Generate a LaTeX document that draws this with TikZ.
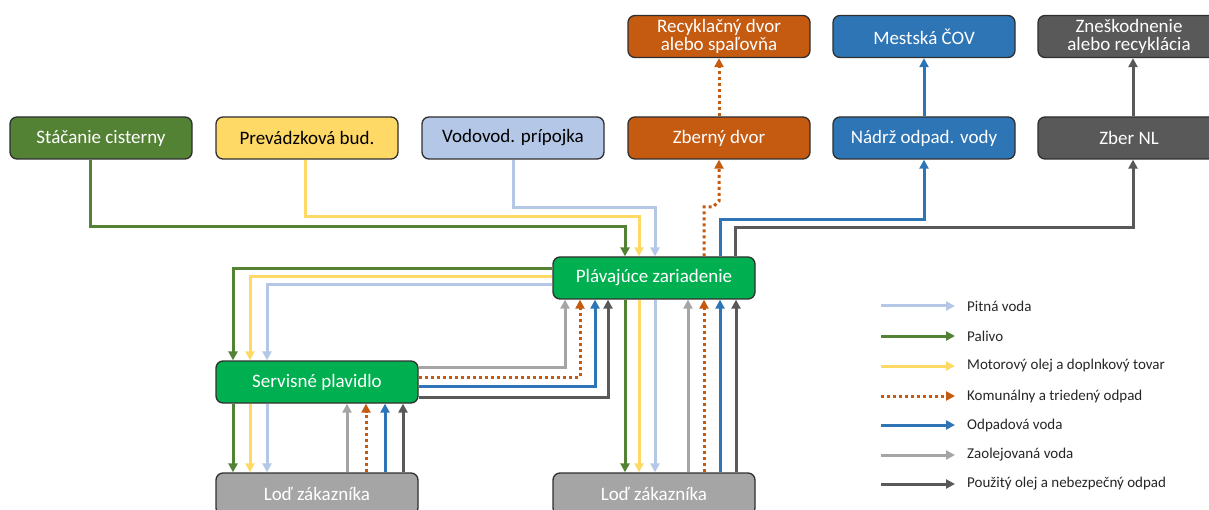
\documentclass[tikz,border=0pt]{standalone}
\usepackage{fontspec}
\setmainfont{Carlito}
\usetikzlibrary{arrows.meta}
\definecolor{cgreen}{HTML}{548235}
\definecolor{cyellow}{HTML}{FFD966}
\definecolor{clblue}{HTML}{B4C7E7}
\definecolor{corange}{HTML}{C55A11}
\definecolor{cblue}{HTML}{2E75B6}
\definecolor{cgray}{HTML}{A5A5A5}
\definecolor{cdark}{HTML}{595959}
\definecolor{cbright}{HTML}{00B050}
\definecolor{cborder}{HTML}{2F2F2F}
\tikzset{
  box/.style={draw=cborder, line width=1.3pt, rounded corners=7pt, minimum height=42pt, inner sep=0pt, font=\fontsize{19}{18}\selectfont, align=center},
  sbox/.style={box, minimum width=182pt},
  wbox/.style={box, minimum width=202pt},
  flow/.style={line width=3pt, -{Triangle[length=9pt,width=9pt]}},
  palivo/.style={flow, draw=cgreen},
  olej/.style={flow, draw=cyellow},
  pitna/.style={flow, draw=clblue},
  odpad/.style={flow, draw=corange, dash pattern=on 3pt off 3pt},
  odvoda/.style={flow, draw=cblue},
  zaol/.style={flow, draw=cgray},
  nebez/.style={flow, draw=cdark},
  legtext/.style={anchor=west, inner sep=0pt, font=\fontsize{15}{15}\selectfont, text=black!85}
}
\begin{document}
\begin{tikzpicture}[x=1pt,y=-1pt]
\useasboundingbox (0,0) rectangle (1209,510);
% top row
\node[sbox, fill=corange, text=white] (recyk) at (719,36.5) {Recyklačný dvor\\alebo spaľovňa};
\node[sbox, fill=cblue, text=white] (cov) at (924,36.5) {Mestská ČOV};
\node[sbox, fill=cdark, text=white] (znes) at (1129,36.5) {Zneškodnenie\\alebo recyklácia};
% second row
\node[sbox, fill=cgreen, text=white] (stac) at (101,138) {Stáčanie cisterny};
\node[sbox, fill=cyellow, text=black] (prev) at (307,138) {Prevádzková bud.};
\node[sbox, fill=clblue, text=black] (vodo) at (513,138) {Vodovod. prípojka};
\node[sbox, fill=corange, text=white] (zber) at (719,138) {Zberný dvor};
\node[sbox, fill=cblue, text=white] (nadrz) at (924,138) {Nádrž odpad. vody};
\node[sbox, fill=cdark, text=white] (zbernl) at (1129,138) {Zber NL};
% middle
\node[wbox, fill=cbright, text=white] (plav) at (654,278) {Plávajúce zariadenie};
\node[wbox, fill=cbright, text=white] (serv) at (317,382) {Servisné plavidlo};
\node[wbox, fill=cgray, text=white] (lod1) at (317,494) {Loď zákazníka};
\node[wbox, fill=cgray, text=white] (lod2) at (654,494) {Loď zákazníka};

% top-row arrows
\draw[odpad] (zber.north) -- (recyk.south);
\draw[odvoda] (nadrz.north) -- (cov.south);
\draw[nebez] ([xshift=4pt]zbernl.north) -- ([xshift=4pt]znes.south);

% sources -> plav
\draw[palivo] ([xshift=-11pt]stac.south) |- (625,227) -- ([xshift=-29pt]plav.north);
\draw[olej] ([xshift=-2pt]prev.south) |- (639,217) -- ([xshift=-15pt]plav.north);
\draw[pitna] (vodo.south) |- (655,208) -- ([xshift=1pt]plav.north);
% plav -> sinks
\draw[odpad] ([xshift=50pt]plav.north) -- (704,207) -- (713,207) -- (719,201) -- (zber.south);
\draw[odvoda] ([xshift=66pt]plav.north) |- (924,220) -- (nadrz.south);
\draw[nebez] ([xshift=81pt]plav.north) |- (1133,228) -- ([xshift=4pt]zbernl.south);

% plav -> serv
\draw[palivo] ([yshift=9pt]plav.west) -| ([xshift=-84pt]serv.north);
\draw[olej] ([yshift=1pt]plav.west) -| ([xshift=-67pt]serv.north);
\draw[pitna] ([yshift=-7pt]plav.west) -| ([xshift=-50pt]serv.north);
% serv -> plav
\draw[zaol] ([yshift=15pt]serv.east) -| ([xshift=-89pt]plav.south);
\draw[odpad] ([yshift=5pt]serv.east) -| ([xshift=-74pt]plav.south);
\draw[odvoda] ([yshift=-4pt]serv.east) -| ([xshift=-59pt]plav.south);
\draw[nebez] ([yshift=-15pt]serv.east) -| ([xshift=-46pt]plav.south);

% serv <-> lod1
\draw[palivo] ([xshift=-84pt]serv.south) -- ([xshift=-84pt]lod1.north);
\draw[olej] ([xshift=-67pt]serv.south) -- ([xshift=-67pt]lod1.north);
\draw[pitna] ([xshift=-50pt]serv.south) -- ([xshift=-50pt]lod1.north);
\draw[zaol] ([xshift=30pt]lod1.north) -- ([xshift=30pt]serv.south);
\draw[odpad] ([xshift=49pt]lod1.north) -- ([xshift=49pt]serv.south);
\draw[odvoda] ([xshift=68pt]lod1.north) -- ([xshift=68pt]serv.south);
\draw[nebez] ([xshift=86pt]lod1.north) -- ([xshift=86pt]serv.south);

% plav <-> lod2
\draw[palivo] ([xshift=-29pt]plav.south) -- ([xshift=-29pt]lod2.north);
\draw[olej] ([xshift=-15pt]plav.south) -- ([xshift=-15pt]lod2.north);
\draw[pitna] ([xshift=1pt]plav.south) -- ([xshift=1pt]lod2.north);
\draw[zaol] ([xshift=34pt]lod2.north) -- ([xshift=34pt]plav.south);
\draw[odpad] ([xshift=50pt]lod2.north) -- ([xshift=50pt]plav.south);
\draw[odvoda] ([xshift=66pt]lod2.north) -- ([xshift=66pt]plav.south);
\draw[nebez] ([xshift=82pt]lod2.north) -- ([xshift=82pt]plav.south);

% legend
\foreach \st/\txt/\yy [count=\i] in {pitna/Pitná voda/306, palivo/Palivo/336, olej/Motorový olej a doplnkový tovar/366, odpad/Komunálny a triedený odpad/396, odvoda/Odpadová voda/425, zaol/Zaolejovaná voda/455, nebez/Použitý olej a nebezpečný odpad/484}{
  \coordinate (ls\i) at (881,\yy);
  \node[legtext] (lt\i) at (967,\yy) {\txt};
  \draw[\st] (ls\i) -- ([xshift=-12pt]lt\i.west);
}
\end{tikzpicture}
\end{document}
